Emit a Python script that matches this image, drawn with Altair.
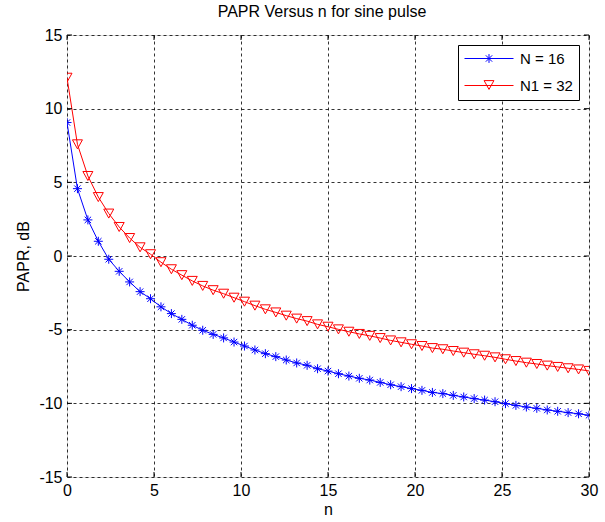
import altair as alt
import pandas as pd

# ---------------- data ----------------
n_values = [0.0, 0.6, 1.2, 1.8, 2.4, 3.0, 3.6, 4.2, 4.8, 5.4,
            6.0, 6.6, 7.2, 7.8, 8.4, 9.0, 9.6, 10.2, 10.8, 11.4,
            12.0, 12.6, 13.2, 13.8, 14.4, 15.0, 15.6, 16.2, 16.8, 17.4,
            18.0, 18.6, 19.2, 19.8, 20.4, 21.0, 21.6, 22.2, 22.8, 23.4,
            24.0, 24.6, 25.2, 25.8, 26.4, 27.0, 27.6, 28.2, 28.8, 29.4, 30.0]

papr_n16 = [9.06, 4.57, 2.45, 1.00, -0.22, -1.04, -1.76, -2.42, -2.90, -3.45,
            -3.91, -4.30, -4.70, -5.04, -5.32, -5.56, -5.84, -6.11, -6.38, -6.63,
            -6.83, -7.06, -7.26, -7.42, -7.65, -7.81, -7.99, -8.15, -8.30, -8.42,
            -8.58, -8.74, -8.87, -9.00, -9.12, -9.26, -9.34, -9.46, -9.57, -9.68,
            -9.78, -9.89, -10.02, -10.14, -10.25, -10.34, -10.45, -10.54, -10.63, -10.71, -10.81]

papr_n32 = [12.10, 7.58, 5.43, 4.00, 2.88, 1.97, 1.22, 0.59, 0.12, -0.42,
            -0.90, -1.30, -1.69, -2.03, -2.32, -2.56, -2.83, -3.10, -3.37, -3.62,
            -3.83, -4.05, -4.25, -4.42, -4.64, -4.80, -4.98, -5.14, -5.29, -5.42,
            -5.57, -5.73, -5.86, -5.99, -6.11, -6.25, -6.33, -6.45, -6.56, -6.67,
            -6.77, -6.88, -7.01, -7.13, -7.24, -7.33, -7.44, -7.53, -7.62, -7.70, -7.80]

series_names = ["N = 16", "N1 = 32"]
series_colors = ["#0000FF", "#FF0000"]
x_ticks = [0, 5, 10, 15, 20, 25, 30]
y_ticks = [-15, -10, -5, 0, 5, 10, 15]

rows = []
for name, vals in zip(series_names, [papr_n16, papr_n32]):
    for n, v in zip(n_values, vals):
        rows.append({"n": n, "PAPR": v, "series": name})
df = pd.DataFrame(rows)
xt_df = pd.DataFrame({"n": x_ticks})
yt_df = pd.DataFrame({"PAPR": y_ticks})

# ---------------- styling ----------------
FONT = "Liberation Sans"
marker_paths = [
    "M0,-0.9L0,0.9M-0.9,0L0.9,0M-0.64,-0.64L0.64,0.64M-0.64,0.64L0.64,-0.64",
    "M-1,-0.9L1,-0.9L0,0.9Z",
]
legend_paths = [
    "M-1,0L1,0M0,-0.18L0,0.18M-0.18,0L0.18,0M-0.13,-0.13L0.13,0.13M-0.13,0.13L0.13,-0.13",
    "M-1,0L1,0M-0.2,-0.2L0.2,-0.2L0,0.16Z",
]
hyphen_labels = "datum.value < 0 ? '-' + abs(datum.value) : '' + datum.value"

x_scale = alt.Scale(domain=[0, 30], nice=False, zero=False)
y_scale = alt.Scale(domain=[-15, 15], nice=False, zero=False)

common_axis = dict(
    grid=True, gridDash=[3, 3], gridColor="#000000", gridOpacity=0.8, gridWidth=1,
    ticks=False, domain=False, labelFlush=False, labelExpr=hyphen_labels,
    labelFont=FONT, labelFontSize=16, labelColor="black",
    titleFont=FONT, titleFontSize=16, titleFontWeight="normal", titleColor="black",
)
x_enc = alt.X("n:Q", scale=x_scale,
              axis=alt.Axis(title="n", values=x_ticks, labelPadding=5, titlePadding=3, **common_axis))
y_enc = alt.Y("PAPR:Q", scale=y_scale,
              axis=alt.Axis(title="PAPR, dB", values=y_ticks, labelPadding=5, titlePadding=7, **common_axis))

color_plain = alt.Color("series:N", scale=alt.Scale(domain=series_names, range=series_colors), legend=None)

lines = alt.Chart(df).mark_line(strokeWidth=1, clip=True).encode(
    x=x_enc, y=y_enc, color=color_plain
)

points = alt.Chart(df).mark_point(filled=False, strokeWidth=1, size=100, opacity=1, clip=True).encode(
    x=x_enc, y=y_enc, color=color_plain,
    shape=alt.Shape("series:N", scale=alt.Scale(domain=series_names, range=marker_paths), legend=None),
)

leg = alt.Legend(
    title=None, orient="top-right", offset=10,
    strokeColor="black", fillColor="white", padding=6, cornerRadius=0,
    labelFont=FONT, labelFontSize=15, labelColor="black", labelOffset=6,
    symbolSize=2401, symbolStrokeWidth=1, rowPadding=11, clipHeight=15,
)
legend_layer = alt.Chart(df).transform_filter("datum.n < -100").mark_point(
    filled=False, strokeWidth=1, opacity=1
).encode(
    x=x_enc, y=y_enc,
    color=alt.Color("series:N", scale=alt.Scale(domain=series_names, range=series_colors), legend=leg),
    shape=alt.Shape("series:N", scale=alt.Scale(domain=series_names, range=legend_paths), legend=leg),
)

tick_top = alt.Chart(xt_df).mark_rule(color="black", strokeWidth=1).encode(
    x=x_enc, y=alt.value(0), y2=alt.value(5))
tick_bottom = alt.Chart(xt_df).mark_rule(color="black", strokeWidth=1).encode(
    x=x_enc, y=alt.value(442), y2=alt.value(437))
tick_left = alt.Chart(yt_df).mark_rule(color="black", strokeWidth=1).encode(
    y=y_enc, x=alt.value(0), x2=alt.value(5))
tick_right = alt.Chart(yt_df).mark_rule(color="black", strokeWidth=1).encode(
    y=y_enc, x=alt.value(522), x2=alt.value(517))

chart = alt.layer(
    lines, points, tick_top, tick_bottom, tick_left, tick_right, legend_layer
).resolve_scale(
    color="independent", shape="independent"
).properties(
    width=522, height=442,
    title=alt.Title("PAPR Versus n for sine pulse", font=FONT, fontSize=16, fontWeight="normal",
                    color="black", anchor="middle", offset=7, dx=-6),
    autosize=alt.AutoSizeParams(type="none"),
    padding={"left": 67, "top": 35, "right": 16, "bottom": 45},
).configure_view(
    stroke="black", strokeWidth=1
).configure(background="white")

chart.save("out.html", embed_options={"renderer": "svg", "actions": False})
